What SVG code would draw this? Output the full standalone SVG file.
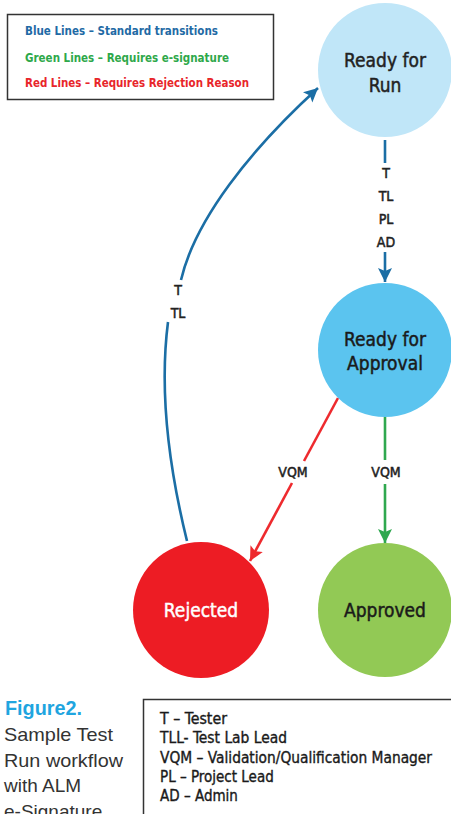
<svg xmlns="http://www.w3.org/2000/svg" width="451" height="814" viewBox="0 0 451 814">
<style>
.cond{font-family:"DejaVu Sans Condensed","Liberation Sans Narrow","Liberation Sans",sans-serif}
.node{font-size:19px;text-anchor:middle;stroke-width:0.45}
.lbl{font-size:14px;text-anchor:middle;fill:#222;stroke:#222;stroke-width:0.5}
.leg{font-size:12px;font-weight:bold}
.role{font-size:15px;fill:#1a1a1a;stroke:#1a1a1a;stroke-width:0.35}
.cap{font-family:"Liberation Sans",Arial,sans-serif;font-size:19px;fill:#333}
.blue{stroke:#1b6ea5;stroke-width:2.6;fill:none}
.green{stroke:#2fa84f;stroke-width:2.6;fill:none}
.red{stroke:#ee2a2e;stroke-width:2.6;fill:none}
</style>
<defs>
<marker id="ab" markerUnits="userSpaceOnUse" markerWidth="15" markerHeight="15" refX="14" refY="7" orient="auto"><path d="M0,0 L14,7 L0,14 L3,7 z" fill="#1b6ea5"/></marker>
<marker id="ag" markerUnits="userSpaceOnUse" markerWidth="15" markerHeight="15" refX="14" refY="7" orient="auto"><path d="M0,0 L14,7 L0,14 L3,7 z" fill="#2fa84f"/></marker>
<marker id="ar" markerUnits="userSpaceOnUse" markerWidth="15" markerHeight="15" refX="14" refY="7" orient="auto"><path d="M0,0 L14,7 L0,14 L3,7 z" fill="#ee2a2e"/></marker>
</defs>
<rect width="451" height="814" fill="#fff"/>

<g id="legend">
<rect x="7.5" y="14.5" width="266" height="85" fill="#fff" stroke="#333" stroke-width="1.5"/>
<text class="cond leg" x="25" y="35" fill="#1f6aa5" textLength="193" lengthAdjust="spacingAndGlyphs">Blue Lines – Standard transitions</text>
<text class="cond leg" x="25" y="62" fill="#2ea84a" textLength="204" lengthAdjust="spacingAndGlyphs">Green Lines – Requires e-signature</text>
<text class="cond leg" x="25" y="87" fill="#e8252a" textLength="224" lengthAdjust="spacingAndGlyphs">Red Lines – Requires Rejection Reason</text>
</g>

<g id="connectors">
<path class="blue" d="M385,140 V163"/>
<path class="blue" d="M385,252 V282" marker-end="url(#ab)"/>
<text class="cond lbl" x="386" y="178">T</text>
<text class="cond lbl" x="386" y="201">TL</text>
<text class="cond lbl" x="386" y="224">PL</text>
<text class="cond lbl" x="386" y="247">AD</text>

<path class="green" d="M385,417 V460"/>
<path class="green" d="M385,484 V543" marker-end="url(#ag)"/>
<text class="cond lbl" x="386" y="477">VQM</text>

<path class="red" d="M338,398 L304,461"/>
<path class="red" d="M292,483 L250,561" marker-end="url(#ar)"/>
<text class="cond lbl" x="293" y="477">VQM</text>

<path class="blue" d="M187,541 C172,480 158,400 168,322"/>
<path class="blue" d="M181,280 C195,220 250,150 318,88" marker-end="url(#ab)"/>
<text class="cond lbl" x="178" y="295">T</text>
<text class="cond lbl" x="178" y="318">TL</text>
</g>

<g id="ready-for-run">
<circle cx="385" cy="70" r="67" fill="#c0e6f8"/>
<text class="cond node" x="385" y="67" fill="#222" stroke="#222">Ready for</text>
<text class="cond node" x="385" y="92" fill="#222" stroke="#222">Run</text>
</g>

<g id="ready-for-approval">
<circle cx="385" cy="350" r="67" fill="#5bc4ef"/>
<text class="cond node" x="385" y="346" fill="#1a1a1a" stroke="#1a1a1a">Ready for</text>
<text class="cond node" x="385" y="370" fill="#1a1a1a" stroke="#1a1a1a">Approval</text>
</g>

<g id="rejected">
<circle cx="201" cy="610" r="68" fill="#ed1c24"/>
<text class="cond node" x="201" y="617" fill="#fff" stroke="#fff">Rejected</text>
</g>

<g id="approved">
<circle cx="385" cy="610" r="67" fill="#92c955"/>
<text class="cond node" x="385" y="617" fill="#1a1a1a" stroke="#1a1a1a">Approved</text>
</g>

<g id="caption">
<text x="5" y="715" font-family="Liberation Sans,Arial,sans-serif" font-size="20" font-weight="bold" fill="#1fa5e0" textLength="77" lengthAdjust="spacingAndGlyphs">Figure2.</text>
<text class="cap" x="4" y="741" textLength="109" lengthAdjust="spacingAndGlyphs">Sample Test</text>
<text class="cap" x="4" y="767" textLength="119" lengthAdjust="spacingAndGlyphs">Run workflow</text>
<text class="cap" x="4" y="792">with ALM</text>
<text class="cap" x="4" y="818">e-Signature</text>
</g>

<g id="roles">
<rect x="143.5" y="699.5" width="310" height="120" fill="#fff" stroke="#333" stroke-width="1.5"/>
<text class="cond role" x="160" y="724" textLength="67" lengthAdjust="spacingAndGlyphs">T – Tester</text>
<text class="cond role" x="160" y="743" textLength="127" lengthAdjust="spacingAndGlyphs">TLL- Test Lab Lead</text>
<text class="cond role" x="160" y="763" textLength="272" lengthAdjust="spacingAndGlyphs">VQM – Validation/Qualification Manager</text>
<text class="cond role" x="160" y="782">PL – Project Lead</text>
<text class="cond role" x="160" y="801">AD – Admin</text>
</g>
</svg>
